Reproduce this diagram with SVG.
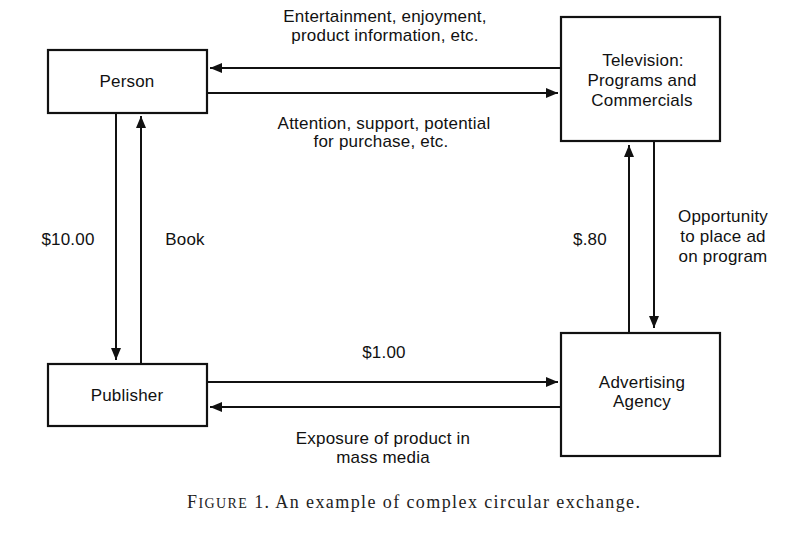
<svg xmlns="http://www.w3.org/2000/svg" width="805" height="534" viewBox="0 0 805 534">
<style>
.box{fill:#fff;stroke:#111;stroke-width:2.2}
.t{font-family:"Liberation Sans",Arial,sans-serif;font-size:17px;letter-spacing:0.2px;fill:#111;text-anchor:middle}
.c{stroke:#111;stroke-width:2;fill:none;marker-end:url(#ah)}
.cap{font-family:"Liberation Serif","Times New Roman",serif;font-size:18px;fill:#222}
</style>
<defs>
<marker id="ah" markerUnits="userSpaceOnUse" markerWidth="14" markerHeight="12" refX="12" refY="5.5" orient="auto">
<path d="M0,0.5 L12,5.5 L0,10.5 z" fill="#111"/>
</marker>
</defs>
<rect width="805" height="534" fill="#fff"/>
<g id="connectors">
<line class="c" x1="561" y1="68" x2="210" y2="68"/>
<line class="c" x1="207" y1="93" x2="558" y2="93"/>
<line class="c" x1="116" y1="113" x2="116" y2="360"/>
<line class="c" x1="141" y1="364" x2="141" y2="116"/>
<line class="c" x1="629" y1="333" x2="629" y2="145"/>
<line class="c" x1="654" y1="141" x2="654" y2="328"/>
<line class="c" x1="207" y1="382" x2="558" y2="382"/>
<line class="c" x1="561" y1="407" x2="210" y2="407"/>
</g>
<g id="person"><rect class="box" x="48" y="50" width="159" height="63"/><text class="t" x="127" y="87">Person</text></g>
<g id="television"><rect class="box" x="561" y="17" width="159" height="124"/>
<text class="t" x="643" y="66">Television:</text><text class="t" x="642" y="86">Programs and</text><text class="t" x="642" y="106">Commercials</text></g>
<g id="publisher"><rect class="box" x="48" y="364" width="159" height="62"/><text class="t" x="127" y="401">Publisher</text></g>
<g id="agency"><rect class="box" x="561" y="333" width="159" height="123"/>
<text class="t" x="642" y="388">Advertising</text><text class="t" x="642" y="407">Agency</text></g>
<g id="labels">
<text class="t" x="385" y="22">Entertainment, enjoyment,</text>
<text class="t" x="385" y="41">product information, etc.</text>
<text class="t" x="384" y="129">Attention, support, potential</text>
<text class="t" x="381" y="147">for purchase, etc.</text>
<text class="t" x="68" y="245">$10.00</text>
<text class="t" x="185" y="245">Book</text>
<text class="t" x="590" y="245">$.80</text>
<text class="t" x="723" y="222">Opportunity</text>
<text class="t" x="723" y="242">to place ad</text>
<text class="t" x="723" y="262">on program</text>
<text class="t" x="384" y="358">$1.00</text>
<text class="t" x="383" y="444">Exposure of product in</text>
<text class="t" x="383" y="463">mass media</text>
</g>
<text class="cap" x="187" y="508" textLength="453" lengthAdjust="spacing">F<tspan font-size="14">IGURE</tspan> 1. An example of complex circular exchange.</text>
</svg>
